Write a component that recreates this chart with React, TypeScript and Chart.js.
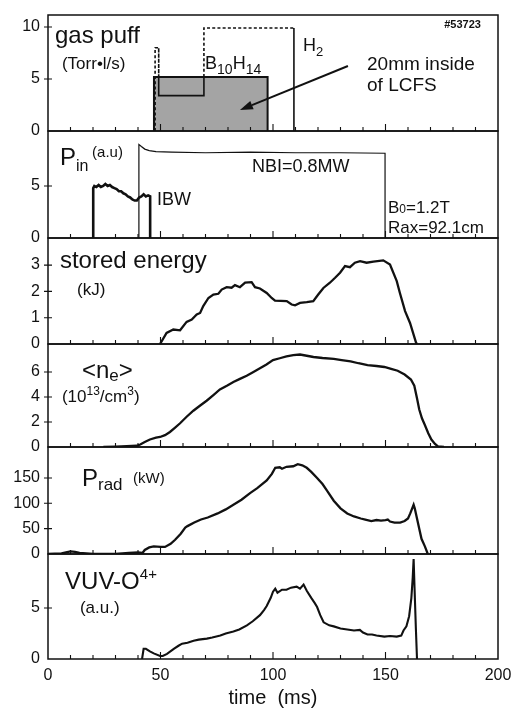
import React, { useEffect, useRef } from 'react';
import { Chart, registerables } from 'chart.js';
Chart.register(...registerables);

const FONT = '"Liberation Sans", Arial, Helvetica, sans-serif';
const INK = '#111111';

// ---------- shared time axis ----------
const xLabels = [0, 50, 100, 150, 200];
const xMinorStep = 10;
const xMajorStep = 50;

// ---------- panel 1 : gas puff ----------
const puffTicks = [0, 5, 10];
const b10h14Time = [47.1, 47.1, 97.6, 97.6];
const b10h14Val = [0, 5.2, 5.2, 0];
const h2Time = [47.6, 47.6, 49.2, 49.2, 49.2, 69.3, 69.3, 69.3, 109.3, 109.3];
const h2Val = [0, 8.0, 8.0, 5.2, 3.4, 3.4, 5.2, 9.9, 9.9, 0];

// ---------- panel 2 : input power ----------
const pinTicks = [0, 5];
const ibwTime = [20.1, 20.1, 20.6, 21.5, 22.5, 23.5, 24.5, 25.5, 26.5, 27.5, 28.5, 29.5, 30.5, 31.5, 32.5, 33.5, 34.5, 35.5, 36.5, 37.5, 38.5, 39.5, 40.5, 41.5, 42.5, 43.5, 44.5, 45.4, 45.4];
const ibwVal = [0, 4.8, 5.0, 4.9, 5.1, 4.9, 5.0, 5.2, 5.0, 5.1, 4.9, 4.8, 4.7, 4.5, 4.5, 4.3, 4.2, 4.0, 3.9, 3.7, 3.6, 3.6, 3.9, 4.0, 4.2, 4.0, 4.1, 4.0, 0];
const nbiTime = [40.4, 40.4, 41.5, 43, 45, 48, 55, 70, 90, 110, 130, 149.8, 149.8];
const nbiVal = [0, 9.0, 8.8, 8.55, 8.4, 8.3, 8.25, 8.2, 8.25, 8.2, 8.2, 8.15, 0];

// ---------- panel 3 : stored energy ----------
const weTicks = [0, 1, 2, 3];
const weTime = [49.8, 52.7, 55.7, 58.7, 61.6, 63.9, 66.1, 67.6, 69.0, 71.3, 73.5, 75.7, 77.2, 79.4, 81.6, 83.1, 85.3, 87.6, 90.5, 92.0, 94.2, 97.2, 99.4, 100.9, 106.1, 108.3, 109.8, 112.0, 115.0, 117.9, 120.1, 122.4, 125.3, 127.6, 129.8, 132.0, 134.2, 136.4, 138.7, 141.6, 144.6, 149.0, 152.0, 155.0, 156.4, 158.7, 160.9, 163.6, 164.1];
const weVal = [0, 0.42, 0.55, 0.52, 0.84, 0.93, 1.12, 1.18, 1.44, 1.75, 1.88, 1.91, 2.07, 2.16, 2.14, 2.24, 2.16, 2.33, 2.35, 2.16, 2.11, 1.94, 1.75, 1.65, 1.63, 1.50, 1.47, 1.56, 1.59, 1.63, 1.88, 2.13, 2.33, 2.52, 2.71, 2.96, 2.92, 3.09, 3.15, 3.09, 3.13, 3.18, 3.02, 2.39, 1.94, 1.25, 0.80, 0.04, 0];

// ---------- panel 4 : line density ----------
const neTicks = [0, 2, 4, 6];
const neTime = [24.6, 30, 35, 39.4, 41, 43, 45.3, 48, 49.8, 52, 54.2, 56.5, 58.7, 61.5, 64.6, 67.5, 70.5, 73.5, 76.4, 79.5, 82.4, 85.3, 88.3, 91.3, 94.2, 97.1, 100, 103, 106, 109, 112, 115, 118, 122, 127, 130.5, 134.5, 138, 142, 146, 149.5, 152.5, 155.4, 158.5, 161.3, 162.8, 164, 165, 166.2, 167.4, 169, 170.4, 172, 173.3, 176];
const neVal = [0, 0.03, 0.07, 0.1, 0.2, 0.4, 0.6, 0.75, 0.8, 0.95, 1.2, 1.55, 1.9, 2.4, 2.9, 3.3, 3.7, 4.15, 4.6, 4.9, 5.2, 5.45, 5.7, 6.0, 6.3, 6.6, 6.95, 7.1, 7.25, 7.35, 7.4, 7.3, 7.2, 7.12, 7.05, 6.95, 6.85, 6.7, 6.55, 6.48, 6.4, 6.25, 6.1, 5.8, 5.4, 4.9, 3.9, 3.0, 2.3, 1.8, 1.1, 0.6, 0.25, 0.05, 0];

// ---------- panel 5 : radiated power ----------
const pradTicks = [0, 50, 100, 150];
const pradTime = [0, 6, 8, 10, 12, 14, 17, 20, 30, 36, 40, 42, 43, 45, 47, 50, 52, 54.5, 56.5, 59, 61, 62, 65, 68, 71, 75.4, 79, 82.4, 86, 89.8, 93, 97.2, 99.5, 101, 103, 104, 106, 109, 111, 113, 115, 117, 119.6, 122, 124, 127, 130, 133, 136, 139, 141, 143.7, 146, 148, 150, 151, 152, 154, 156.5, 158.5, 160, 161, 162.5, 163, 164, 165, 166, 167.5, 168.8];
const pradVal = [0, 1, 3, 5, 4, 2, 1, 0, 0, 2, 3, 2, 8, 13, 15, 14, 14, 20, 28, 40, 52, 55, 62, 68, 72, 80, 88, 97, 107, 120, 130, 145, 158, 170, 171, 168, 172, 173, 177, 175, 170, 162, 150, 138, 125, 105, 90, 80, 74, 70, 68, 65, 67, 66, 67, 68, 64, 62, 62, 65, 70, 80, 97, 90, 70, 50, 30, 15, 0];

// ---------- panel 6 : VUV O4+ ----------
const vuvTicks = [0, 5];
const vuvTime = [41.8, 42.5, 43.5, 45.3, 47, 49.8, 51, 52.9, 55.9, 58, 59.6, 62, 64.7, 67, 70.6, 73, 76.6, 79, 82.4, 85, 88.4, 91, 94.2, 96, 97.2, 99, 100, 101, 102, 104, 106, 108, 110.5, 112, 113.6, 115, 117, 118.5, 119.6, 121, 122.5, 125, 127, 130, 133, 136, 138.6, 140, 142, 144, 146, 149.5, 152, 155, 157, 158, 159.3, 160.5, 161.5, 162.1, 162.5, 162.9, 163.5, 164];
const vuvVal = [0, 1.0, 1.0, 0.75, 0.55, 0.3, 0.3, 0.5, 1.0, 1.3, 1.5, 1.6, 1.8, 1.9, 2.0, 2.1, 2.3, 2.5, 2.7, 2.9, 3.3, 3.7, 4.3, 4.8, 5.2, 6.0, 6.6, 6.9, 6.5, 6.8, 6.8, 7.0, 7.1, 6.9, 7.3, 6.7, 6.0, 5.5, 5.1, 4.3, 3.6, 3.3, 3.2, 3.0, 2.9, 2.8, 2.85, 2.6, 2.4, 2.4, 2.3, 2.2, 2.25, 2.2, 2.3, 2.8, 3.2, 4.2, 6.0, 8.0, 9.8, 7.0, 3.0, 0];

const zip = (t: number[], v: number[]) => t.map((x, i) => ({ x, y: v[i] }));

type Part = { t: string; size: number; dy?: number; bold?: boolean };
type Txt = { x: number; y: number; parts: Part[]; align?: 'left' | 'right' };
type Arrow = { from: [number, number]; to: [number, number] };
type PanelDef = {
  top: number; bottom: number; yMax: number; yTicks: number[];
  datasets: any[]; texts: Txt[]; arrows?: Arrow[]; showX?: boolean;
};

const line = (data: { x: number; y: number }[], extra: any = {}) => ({
  data, borderColor: INK, borderWidth: 2, pointRadius: 0, tension: 0, fill: false, ...extra,
});

const boxMax = Math.max(...b10h14Val);
const boxL = Math.min(...b10h14Time);
const boxR = Math.max(...b10h14Time);
const insideBox = (p: any) => p.parsed.y <= boxMax + 1e-6 && p.parsed.x >= boxL && p.parsed.x <= boxR;

const T = (t: string, size: number, dy = 0, bold = false): Part => ({ t, size, dy, bold });

const panels: PanelDef[] = [
  {
    top: 15, bottom: 131, yMax: 11.15, yTicks: puffTicks,
    datasets: [
      line(zip(h2Time, h2Val), {
        borderWidth: 1.6,
        segment: { borderDash: (c: any) => (insideBox(c.p0) && insideBox(c.p1) ? [] : [3, 2.2]) },
      }),
      line(zip(b10h14Time, b10h14Val), { fill: 'origin', backgroundColor: '#a4a4a4', borderWidth: 2 }),
    ],
    texts: [
      { x: 3.1, y: 8.46, parts: [T('gas puff', 24)] },
      { x: 6.2, y: 5.96, parts: [T('(Torr•l/s)', 17)] },
      { x: 192.4, y: 9.9, parts: [T('#53723', 11, 0, true)], align: 'right' },
      { x: 113.3, y: 7.69, parts: [T('H', 18), T('2', 13, 5)] },
      { x: 69.8, y: 5.96, parts: [T('B', 18), T('10', 14, 5), T('H', 18), T('14', 14, 5)] },
      { x: 141.8, y: 5.87, parts: [T('20mm inside', 19)] },
      { x: 141.8, y: 3.85, parts: [T('of LCFS', 19)] },
    ],
    arrows: [{ from: [133.3, 6.25], to: [85.3, 2.02] }],
  },
  {
    top: 131, bottom: 238, yMax: 10.29, yTicks: pinTicks,
    datasets: [
      line(zip(nbiTime, nbiVal), { borderWidth: 1.2 }),
      line(zip(ibwTime, ibwVal), { borderWidth: 2.6 }),
    ],
    texts: [
      { x: 5.3, y: 7.02, parts: [T('P', 24), T('in', 16, 6)] },
      { x: 19.6, y: 7.79, parts: [T('(a.u)', 15)] },
      { x: 90.7, y: 6.35, parts: [T('NBI=0.8MW', 18)] },
      { x: 48.4, y: 3.17, parts: [T('IBW', 18)] },
      { x: 151.1, y: 2.4, parts: [T('B', 17), T('0', 12, 0), T('=1.2T', 17)] },
      { x: 151.1, y: 0.45, parts: [T('Rax=92.1cm', 17)] },
    ],
  },
  {
    top: 238, bottom: 344, yMax: 4.03, yTicks: weTicks,
    datasets: [line(zip(weTime, weVal), { borderWidth: 2.3 })],
    texts: [
      { x: 5.3, y: 2.89, parts: [T('stored energy', 24)] },
      { x: 12.9, y: 1.86, parts: [T('(kJ)', 17)] },
    ],
  },
  {
    top: 344, bottom: 447, yMax: 8.24, yTicks: neTicks,
    datasets: [line(zip(neTime, neVal), { borderWidth: 2.3 })],
    texts: [
      { x: 15.1, y: 5.5, parts: [T('<n', 24), T('e', 17, 3), T('>', 24)] },
      { x: 6.2, y: 3.58, parts: [T('(10', 17), T('13', 12, -7), T('/cm', 17), T('3', 12, -7), T(')', 17)] },
    ],
  },
  {
    top: 447, bottom: 554, yMax: 211, yTicks: pradTicks,
    datasets: [line(zip(pradTime, pradVal), { borderWidth: 2.3 })],
    texts: [
      { x: 15.1, y: 134, parts: [T('P', 24), T('rad', 17, 4)] },
      { x: 37.8, y: 140, parts: [T('(kW)', 15)] },
    ],
  },
  {
    top: 554, bottom: 659, yMax: 10.3, yTicks: vuvTicks,
    datasets: [line(zip(vuvTime, vuvVal), { borderWidth: 2.1 })],
    texts: [
      { x: 7.6, y: 6.86, parts: [T('VUV-O', 24), T('4+', 15, -10)] },
      { x: 14.2, y: 4.51, parts: [T('(a.u.)', 17)] },
    ],
    showX: true,
  },
];

const PAD = 14;
const PAGE_W = 516;
const PAGE_H = 713;
const AXIS_LEFT = 48;
const AXIS_RIGHT_PAD = 18;

function drawRich(ctx: CanvasRenderingContext2D, x: number, y: number, parts: Part[], align: 'left' | 'right' = 'left') {
  const fontOf = (p: Part) => `${p.bold ? 'bold ' : ''}${p.size}px ${FONT}`;
  let total = 0;
  parts.forEach((p) => { ctx.font = fontOf(p); total += ctx.measureText(p.t).width; });
  let cx = align === 'right' ? x - total : x;
  ctx.textAlign = 'left';
  parts.forEach((p) => {
    ctx.font = fontOf(p);
    ctx.fillText(p.t, cx, y + (p.dy || 0));
    cx += ctx.measureText(p.t).width;
  });
}

function decorPlugin(def: PanelDef) {
  return {
    id: 'decor',
    afterDraw(chart: any) {
      const { ctx, chartArea: a, scales } = chart;
      const xs = scales.x;
      const ys = scales.y;
      ctx.save();
      ctx.strokeStyle = INK;
      ctx.lineWidth = 1.5;
      ctx.strokeRect(a.left, a.top, a.right - a.left, a.bottom - a.top);
      ctx.lineWidth = 1.1;
      ctx.beginPath();
      for (let t = xs.min + xMinorStep; t < xs.max; t += xMinorStep) {
        const px = xs.getPixelForValue(t);
        const len = t % xMajorStep === 0 ? 7 : 4;
        ctx.moveTo(px, a.bottom);
        ctx.lineTo(px, a.bottom - len);
      }
      def.yTicks.forEach((v) => {
        if (v === 0) return;
        const py = ys.getPixelForValue(v);
        ctx.moveTo(a.left - 4, py);
        ctx.lineTo(a.left + 4, py);
      });
      ctx.stroke();
      ctx.fillStyle = INK;
      ctx.textBaseline = 'alphabetic';
      def.texts.forEach((tx) => drawRich(ctx, xs.getPixelForValue(tx.x), ys.getPixelForValue(tx.y), tx.parts, tx.align));
      (def.arrows || []).forEach((ar) => {
        const x0 = xs.getPixelForValue(ar.from[0]);
        const y0 = ys.getPixelForValue(ar.from[1]);
        const x1 = xs.getPixelForValue(ar.to[0]);
        const y1 = ys.getPixelForValue(ar.to[1]);
        const ang = Math.atan2(y1 - y0, x1 - x0);
        const hl = 13;
        const hw = 4.5;
        const bx = x1 - hl * Math.cos(ang);
        const by = y1 - hl * Math.sin(ang);
        ctx.lineWidth = 2;
        ctx.beginPath();
        ctx.moveTo(x0, y0);
        ctx.lineTo(bx, by);
        ctx.stroke();
        ctx.beginPath();
        ctx.moveTo(x1, y1);
        ctx.lineTo(bx + hw * Math.sin(ang), by - hw * Math.cos(ang));
        ctx.lineTo(bx - hw * Math.sin(ang), by + hw * Math.cos(ang));
        ctx.closePath();
        ctx.fill();
      });
      ctx.restore();
    },
  };
}

function Panel({ def }: { def: PanelDef }) {
  const ref = useRef<HTMLCanvasElement>(null);
  const canvasTop = def.top - PAD;
  const canvasH = def.showX ? PAGE_H - canvasTop : def.bottom - def.top + 2 * PAD;
  useEffect(() => {
    if (!ref.current) return;
    const chart = new Chart(ref.current, {
      type: 'line',
      data: { datasets: def.datasets },
      options: {
        animation: false,
        responsive: false,
        devicePixelRatio: 1,
        events: [],
        layout: { padding: { left: 0, right: AXIS_RIGHT_PAD, top: PAD, bottom: def.showX ? 0 : PAD } },
        plugins: { legend: { display: false }, tooltip: { enabled: false } },
        scales: {
          x: {
            type: 'linear',
            min: 0,
            max: 200,
            display: !!def.showX,
            grid: { display: false, drawTicks: false },
            border: { display: false },
            ticks: { color: INK, font: { family: FONT, size: 16 }, padding: 7, maxRotation: 0 },
            title: { display: true, text: 'time  (ms)', color: INK, font: { family: FONT, size: 20 }, padding: { top: 0, bottom: 3 } },
            afterBuildTicks: (s: any) => { s.ticks = xLabels.map((v) => ({ value: v })); },
            afterFit: (s: any) => {
              if (!def.showX) return;
              s.height = PAGE_H - def.bottom;
              s.paddingLeft = 0;
              s.paddingRight = 0;
            },
          } as any,
          y: {
            type: 'linear',
            min: 0,
            max: def.yMax,
            grid: { display: false, drawTicks: false },
            border: { display: false },
            ticks: { color: INK, font: { family: FONT, size: 16 }, padding: 8 },
            afterBuildTicks: (s: any) => { s.ticks = def.yTicks.map((v) => ({ value: v })); },
            afterFit: (s: any) => {
              s.width = AXIS_LEFT;
              s.paddingTop = 0;
              s.paddingBottom = 0;
            },
          } as any,
        },
      },
      plugins: [decorPlugin(def)],
    } as any);
    return () => chart.destroy();
  }, []);
  return (
    <canvas
      ref={ref}
      width={PAGE_W}
      height={canvasH}
      style={{ position: 'absolute', left: 0, top: canvasTop, width: PAGE_W, height: canvasH }}
    />
  );
}

export default function App() {
  return (
    <div style={{ position: 'absolute', left: 0, top: 0, width: PAGE_W, height: PAGE_H, overflow: 'hidden', background: '#ffffff' }}>
      {panels.map((p, i) => (
        <Panel key={i} def={p} />
      ))}
    </div>
  );
}
